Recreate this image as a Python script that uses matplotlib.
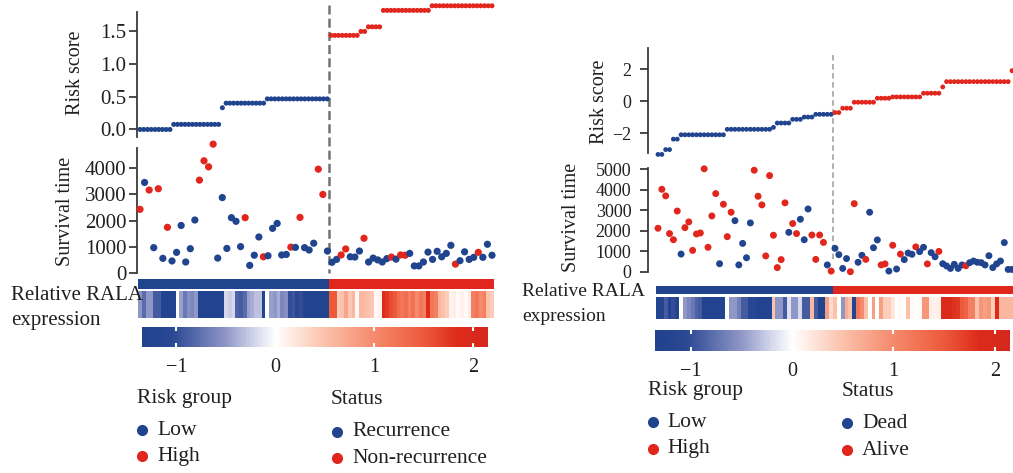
import matplotlib
import numpy as np

matplotlib.use("Agg")
import matplotlib.pyplot as plt
from matplotlib.colorbar import ColorbarBase
from matplotlib.colors import LinearSegmentedColormap, ListedColormap, Normalize
from matplotlib.lines import Line2D

FIG_W, FIG_H = 1013, 473
BLUE = "#21448f"
RED = "#e1261d"
TEXT = "#231f20"
SPINE = "#3a3a3a"

# ---- left cohort: recurrence ----
LEFT_RISK_SCORE = [
    0.00, 0.00, 0.00, 0.00, 0.00, 0.00, 0.00, 0.00, 0.00,
    0.077, 0.077, 0.077, 0.077, 0.077, 0.077, 0.077, 0.077, 0.077, 0.077, 0.077, 0.077, 0.077,
    0.33,
    0.40, 0.40, 0.40, 0.40, 0.40, 0.40, 0.40, 0.40, 0.40, 0.40, 0.40,
    0.465, 0.465, 0.465, 0.465, 0.465, 0.465, 0.465, 0.465, 0.465, 0.465, 0.465, 0.465, 0.465,
    0.465, 0.465, 0.465, 0.465,
    1.43, 1.43, 1.43, 1.43, 1.43, 1.43, 1.43, 1.43,
    1.49, 1.49,
    1.56, 1.56, 1.56, 1.56,
    1.81, 1.81, 1.81, 1.81, 1.81, 1.81, 1.81, 1.81, 1.81, 1.81, 1.81, 1.81, 1.81,
    1.88, 1.88, 1.88, 1.88, 1.88, 1.88, 1.88, 1.88, 1.88, 1.88, 1.88, 1.88, 1.88, 1.88, 1.88,
    1.88, 1.88,
]
LEFT_RISK_CUTOFF = 1.0
LEFT_SURV_TIME = [
    2430, 3460, 3170, 960, 3220, 550, 1740, 450, 780, 1810, 410, 920, 2020, 3550, 4290, 4060,
    4930, 560, 2880, 930, 2110, 1970, 1000, 2110, 280, 670, 1370, 610, 650, 1700, 1890, 680,
    700, 980, 970, 2120, 960, 870, 1130, 3970, 3000, 830, 400, 510, 680, 910, 610, 600, 830,
    1320, 410, 560, 490, 410, 540, 600, 520, 680, 670, 740, 260, 260, 410, 790, 510, 820, 610,
    740, 1050, 330, 460, 800, 510, 590, 780, 590, 1090, 670,
]
# 1 = recurrence, 0 = non-recurrence
LEFT_EVENT = [
    0, 1, 0, 1, 0, 1, 0, 1, 1, 1, 1, 1, 1, 0, 0, 0,
    0, 1, 1, 1, 1, 1, 1, 0, 1, 1, 1, 0, 1, 1, 1, 1,
    1, 0, 1, 0, 1, 1, 1, 0, 0, 1, 1, 1, 0, 0, 1, 1, 1,
    0, 1, 1, 1, 1, 1, 0, 1, 0, 0, 1, 1, 1, 1, 1, 1, 1, 1,
    1, 1, 0, 1, 1, 1, 1, 0, 1, 1, 1,
]
LEFT_RALA_EXPR = [
    -0.5, -0.8, -0.5, -0.5, -0.9, -0.9, -1.3, -1.3, -1.3, -1.3, 0.0, -0.45, -0.7, -0.55, -0.6,
    -0.5, -1.3, -1.3, -1.3, -1.3, -1.3, -1.3, -1.3, -0.2, -0.25, -0.2, -0.85, -0.9, -0.8, -0.45,
    -0.4, -0.3, -0.3, -1.3, 0.0, -0.45, -0.5, -0.4, -0.6, -0.55, -1.0, -0.95, -1.05, -1.0, -1.25,
    -1.3, -1.3, -1.3, -1.3, -1.3, -1.3,
    1.5, 1.5, 0.4, 0.5, 0.75, 0.45, 0.6, 0.05, 0.6, 0.55, 0.5, 0.45, 0.05, 0.1, 1.9, 1.75, 1.6,
    1.5, 1.3, 1.2, 1.3, 1.1, 1.25, 1.0, 1.2, 1.1, 1.9, 1.2, 1.1, 0.6, 0.5, 0.4, 0.1, 0.15, 0.05,
    0.1, 0.05, 0.15, 1.1, 1.2, 1.0, 1.1, 0.5, 0.4,
]
LEFT_STATUS_LABELS = ["Recurrence", "Non-recurrence"]

# ---- right cohort: overall survival ----
RIGHT_RISK_SCORE = [
    -3.30, -3.30, -3.00, -3.00, -2.35, -2.35,
    -2.08, -2.08, -2.08, -2.08, -2.08, -2.08, -2.08, -2.08, -2.08, -2.08, -2.08, -2.08,
    -1.74, -1.74, -1.74, -1.74, -1.74, -1.74, -1.74, -1.74, -1.74, -1.74, -1.74, -1.74,
    -1.62, -1.35, -1.35, -1.35, -1.35, -1.12, -1.12, -1.12, -0.98, -0.98, -0.98,
    -0.81, -0.81, -0.81, -0.81, -0.81,
    -0.70, -0.70, -0.43, -0.43, -0.43,
    -0.06, -0.06, -0.06, -0.06, -0.06, -0.06, 0.19, 0.19, 0.19, 0.19,
    0.27, 0.27, 0.27, 0.27, 0.27, 0.27, 0.27, 0.27, 0.50, 0.50, 0.50, 0.50, 0.50, 0.89,
    1.22, 1.22, 1.22, 1.22, 1.22, 1.22, 1.22, 1.22, 1.22, 1.22, 1.22, 1.22, 1.22, 1.22, 1.22,
    1.22, 1.22, 1.90,
]
RIGHT_RISK_CUTOFF = -0.75
RIGHT_SURV_TIME = [
    2120, 4020, 3700, 1860, 1560, 2960, 860, 2150, 2430, 1040, 1840, 1890, 5020, 1190, 2720,
    3810, 390, 3290, 1710, 2900, 2490, 330, 1380, 680, 2380, 4950, 3680, 3260, 770, 4690, 1780,
    200, 590, 3360, 1920, 2350, 1860, 2560, 1560, 3060, 1790, 600, 1790, 1430, 330, 30,
    1140, 830, 160, 640, 0, 3320, 460, 800, 600, 2900, 1170, 1550, 330, 380, 30, 1290, 130, 860,
    590, 910, 850, 1210, 980, 1190, 380, 930, 730, 990, 390, 280, 160, 360, 160, 330, 290, 440,
    520, 460, 440, 330, 780, 200, 380, 520, 1420, 110, 110,
]
# 1 = dead, 0 = alive
RIGHT_EVENT = [
    0, 0, 0, 0, 0, 0, 1, 0, 0, 0, 0, 0, 0, 0, 0,
    0, 1, 0, 0, 0, 1, 1, 1, 1, 1, 0, 0, 0, 0, 0, 0,
    0, 0, 0, 1, 0, 0, 1, 1, 1, 0, 0, 0, 0, 1, 0,
    1, 1, 1, 1, 0, 0, 1, 1, 0, 1, 1, 1, 0, 0, 1, 0, 1, 0,
    1, 1, 1, 0, 1, 1, 0, 1, 1, 0, 1, 1, 1, 1, 1, 1, 0, 1,
    1, 1, 1, 1, 1, 1, 1, 1, 1, 1, 1,
]
RIGHT_RALA_EXPR = [
    -1.3, -1.2, -0.9, -1.3, -1.0, -1.3, 0.0, -0.5, -0.6, -0.7, -0.85, -0.9, -1.3, -1.3, -1.3,
    -1.3, -1.3, -1.3, 0.0, -0.5, -0.5, -0.65, -0.9, -0.9, -1.1, -1.1, -1.3, -1.3, -1.3, -1.3,
    0.5, -0.5, -0.5, -0.9, -0.15, -0.5, -0.5, -0.2, -0.9, -0.9, 0.6, -0.9, -1.3, -1.3, 0.8, 0.3,
    0.5, 0.0, -0.5, 0.7, 0.5, -1.3, 1.2, 1.0, 0.5, 0.0, 0.8, 0.0, 0.8, 0.4, 0.4, 0.2, 0.0, 0.05,
    0.0, 0.5, 0.05, 0.0, 0.05, 0.9, 0.9, 0.15, 0.1, 0.15, 1.9, 1.95, 1.9, 1.8, 1.75, 1.5, 1.4,
    1.1, 1.1, 0.5, 0.9, 0.8, 0.9, 0.4, 1.9, 0.6, 0.6, 0.6, 0.6,
]
RIGHT_STATUS_LABELS = ["Dead", "Alive"]

EXPR_RANGE = (-1.35, 2.15)
EXPR_TICKS = [-1, 0, 1, 2]

# pixel layout of both halves of the figure (x: left->right, y: top->bottom)
LAYOUTS = [
    dict(
        axes_x=(137, 495), data_x=(140, 492),
        risk_y=(11.7, 136.7), risk_lim=(-0.11, 1.79), risk_ticks=[0, 0.5, 1.0, 1.5], risk_fmt="{:.1f}",
        surv_y=(148.3, 273.3), surv_lim=(-23, 4770), surv_ticks=[0, 1000, 2000, 3000, 4000],
        status_y=(279.3, 288.7), heat_y=(291, 317.7), cbar=(141.7, 327, 488, 347),
        dash=(5, 273), dash_style=dict(color="#737373", lw=1.8, dashes=(6.5, 3)),
        tick_size=15, tick_pad=1.5, risk_dot=13, surv_dot=27,
        risk_label=(76, 73), surv_label=(66, 211), expr_label=(11, 295, 320), expr_size=15,
        group_legend=(137, 398, 142, 157, 430, 456), status_legend=(331, 399, 337, 352, 431.5, 458),
    ),
    dict(
        axes_x=(648, 1013), data_x=(658, 1012),
        risk_y=(48.3, 153.3), risk_lim=(-3.23, 3.29), risk_ticks=[-2, 0, 2], risk_fmt="{:.0f}",
        surv_y=(168.3, 271.7), surv_lim=(0, 5045), surv_ticks=[0, 1000, 2000, 3000, 4000, 5000],
        status_y=(286, 294.3), heat_y=(297, 318.7), cbar=(655, 330, 1010, 351),
        dash=(55, 262), dash_style=dict(color="#9a9a9a", lw=1.1, dashes=(4, 2.5)),
        tick_size=13, tick_pad=6, risk_dot=12, surv_dot=25,
        risk_label=(599, 102), surv_label=(571, 217), expr_label=(522, 291.7, 316.7), expr_size=14,
        group_legend=(648, 390, 653, 667, 422, 448.5), status_legend=(842, 392, 847, 862, 423, 450),
    ),
]


def fig_rect(left, top, right, bottom):
    return [left / FIG_W, 1 - bottom / FIG_H, (right - left) / FIG_W, (bottom - top) / FIG_H]


def make_cmap():
    stops = [
        (-1.35, "#21428e"), (-1.05, "#2a4792"), (-0.5, "#8f97c7"), (-0.2, "#d5d8ec"),
        (0.0, "#ffffff"), (0.1, "#fff3ee"), (0.5, "#fbc1ab"), (1.0, "#f58a6c"),
        (1.5, "#ec5a3b"), (1.85, "#dd2b1b"), (2.15, "#d5271d"),
    ]
    lo, hi = EXPR_RANGE
    return LinearSegmentedColormap.from_list(
        "rala", [((v - lo) / (hi - lo), c) for v, c in stops]
    )


def style_y_axis(ax, lay):
    for side in ("top", "right", "bottom"):
        ax.spines[side].set_visible(False)
    ax.spines["left"].set_color(SPINE)
    ax.spines["left"].set_linewidth(1.3)
    ax.set_xticks([])
    ax.tick_params(axis="y", length=6, width=1.3, color=SPINE, labelsize=lay["tick_size"],
                   labelcolor=TEXT, pad=lay["tick_pad"])
    ax.patch.set_visible(False)


def draw_cohort(fig, lay, risk, cutoff, surv, event, expr, status_labels, cmap):
    risk = np.asarray(risk, dtype=float)
    surv = np.asarray(surv, dtype=float)
    event = np.asarray(event)
    expr = np.asarray(expr, dtype=float)

    high = risk > cutoff
    n_risk = risk.size
    x_risk = np.linspace(0, 1, n_risk)
    x_surv = np.linspace(0, 1, surv.size)
    split = (np.count_nonzero(~high) - 0.5) / (n_risk - 1)

    d0, d1 = lay["data_x"]
    a0, a1 = lay["axes_x"]
    xlim = ((a0 - d0) / (d1 - d0), (a1 - d0) / (d1 - d0))

    # risk score
    ax = fig.add_axes(fig_rect(a0, lay["risk_y"][0], a1, lay["risk_y"][1]))
    ax.scatter(x_risk, risk, s=lay["risk_dot"], c=np.where(high, RED, BLUE), linewidths=0,
               clip_on=False, zorder=3)
    ax.set_xlim(*xlim)
    ax.set_ylim(*lay["risk_lim"])
    ax.set_yticks(lay["risk_ticks"])
    ax.set_yticklabels([lay["risk_fmt"].format(t).replace("-", "\u2212") for t in lay["risk_ticks"]])
    style_y_axis(ax, lay)
    h = lay["risk_y"][1] - lay["risk_y"][0]
    ax.axvline(split, ymin=(lay["risk_y"][1] - lay["dash"][0]) / h,
               ymax=(lay["risk_y"][1] - lay["dash"][1]) / h, clip_on=False, zorder=1,
               **lay["dash_style"])

    # survival time
    ax = fig.add_axes(fig_rect(a0, lay["surv_y"][0], a1, lay["surv_y"][1]))
    ax.scatter(x_surv, surv, s=lay["surv_dot"], c=np.where(event == 1, BLUE, RED), linewidths=0,
               clip_on=False, zorder=3)
    ax.set_xlim(*xlim)
    ax.set_ylim(*lay["surv_lim"])
    ax.set_yticks(lay["surv_ticks"])
    style_y_axis(ax, lay)

    # risk group bar and expression heatmap
    edges = np.linspace(-0.5 / (n_risk - 1), 1 + 0.5 / (n_risk - 1), n_risk + 1)
    ax = fig.add_axes(fig_rect(a0, lay["status_y"][0], a1, lay["status_y"][1]))
    ax.pcolormesh(edges, [0, 1], high.astype(float)[None, :], cmap=ListedColormap([BLUE, RED]),
                  vmin=0, vmax=1)
    ax.set_xlim(*xlim)
    ax.axis("off")

    ax = fig.add_axes(fig_rect(a0, lay["heat_y"][0], a1, lay["heat_y"][1]))
    ax.pcolormesh(edges, [0, 1], expr[None, :], cmap=cmap, vmin=EXPR_RANGE[0], vmax=EXPR_RANGE[1])
    ax.set_xlim(*xlim)
    ax.axis("off")

    # colour scale
    cl, ct, cr, cb = lay["cbar"]
    cax = fig.add_axes(fig_rect(cl, ct, cr, cb))
    cbar = ColorbarBase(cax, cmap=cmap, norm=Normalize(*EXPR_RANGE), orientation="horizontal",
                        ticks=EXPR_TICKS)
    cbar.outline.set_visible(False)
    cax.tick_params(axis="x", direction="in", length=3, width=1.5, color="white",
                    labelsize=14.5, labelcolor=TEXT, pad=8, top=True)
    cax.set_xticklabels([str(t).replace("-", "\u2212") for t in EXPR_TICKS])

    # labels
    rx, ry = lay["risk_label"]
    fig.text(rx / FIG_W, 1 - ry / FIG_H, "Risk score", rotation=90, ha="center", va="center",
             fontsize=14.5, color=TEXT)
    sx, sy = lay["surv_label"]
    fig.text(sx / FIG_W, 1 - sy / FIG_H, "Survival time", rotation=90, ha="center", va="center",
             fontsize=14.5, color=TEXT)
    ex, ey1, ey2 = lay["expr_label"]
    fig.text(ex / FIG_W, 1 - ey1 / FIG_H, "Relative RALA", ha="left", va="center",
             fontsize=lay["expr_size"], color=TEXT)
    fig.text(ex / FIG_W, 1 - ey2 / FIG_H, "expression", ha="left", va="center",
             fontsize=lay["expr_size"], color=TEXT)

    # legends
    for (tx, ty, mx, lx, y1, y2), title, labels, colors in (
        (lay["group_legend"], "Risk group", ["Low", "High"], [BLUE, RED]),
        (lay["status_legend"], "Status", status_labels, [BLUE, RED]),
    ):
        fig.text(tx / FIG_W, 1 - ty / FIG_H, title, ha="left", va="center", fontsize=15.5,
                 color=TEXT)
        for y, label, color in zip((y1, y2), labels, colors):
            fig.add_artist(Line2D([mx / FIG_W], [1 - y / FIG_H], transform=fig.transFigure,
                                  marker="o", markersize=7, color=color, linestyle="none"))
            fig.text(lx / FIG_W, 1 - y / FIG_H, label, ha="left", va="center", fontsize=15.5,
                     color=TEXT)


def main():
    plt.rcParams["font.family"] = ["Liberation Serif", "DejaVu Serif"]
    plt.rcParams["lines.scale_dashes"] = False
    cmap = make_cmap()

    fig = plt.figure(figsize=(FIG_W / 100, FIG_H / 100), dpi=100)
    draw_cohort(fig, LAYOUTS[0], LEFT_RISK_SCORE, LEFT_RISK_CUTOFF, LEFT_SURV_TIME, LEFT_EVENT,
                LEFT_RALA_EXPR, LEFT_STATUS_LABELS, cmap)
    draw_cohort(fig, LAYOUTS[1], RIGHT_RISK_SCORE, RIGHT_RISK_CUTOFF, RIGHT_SURV_TIME, RIGHT_EVENT,
                RIGHT_RALA_EXPR, RIGHT_STATUS_LABELS, cmap)
    fig.savefig("out.png", dpi=100, facecolor="white")
    plt.close(fig)


if __name__ == "__main__":
    main()
